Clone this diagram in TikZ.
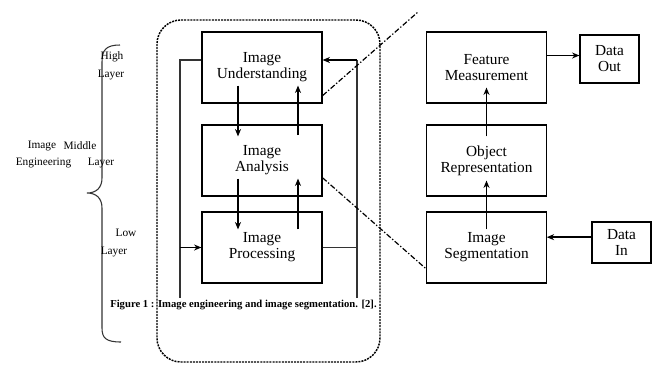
\documentclass[tikz,border=0pt]{standalone}
\usepackage{fontspec}
\setmainfont{Liberation Serif}
\usetikzlibrary{arrows.meta}
\begin{document}
\begin{tikzpicture}[x=0.75pt,y=-0.75pt,
    stage/.style={draw,line width=0.9pt,minimum width=90pt,minimum height=53.25pt,align=center,inner sep=1pt,font=\fontsize{11.5}{12}\selectfont},
    io/.style={draw,line width=0.9pt,minimum width=44.25pt,align=center,inner sep=1pt,font=\fontsize{11.5}{12}\selectfont},
    flow/.style={->,>={Stealth[length=5.5pt,width=4.5pt]},line width=1.2pt},
    loopline/.style={line width=0.9pt,draw=black!80},
    zoomline/.style={line width=0.9pt,dash pattern=on 4pt off 1.5pt on 1pt off 1.5pt},
    lbl/.style={font=\fontsize{8.5}{9}\selectfont,inner sep=0pt}]
  \useasboundingbox (0,0) rectangle (658,365);
  % image engineering levels
  \node[stage] (und) at (262,67.5) {Image\\Understanding};
  \node[stage] (ana) at (262,160.5) {Image\\Analysis};
  \node[stage] (pro) at (262,247.5) {Image\\Processing};
  % segmentation chain
  \node[stage,minimum width=89.5pt] (fea) at (486.5,67.5) {Feature\\Measurement};
  \node[stage,minimum width=89.5pt] (obj) at (486.5,160.5) {Object\\Representation};
  \node[stage,minimum width=89.5pt] (seg) at (486.5,247.5) {Image\\Segmentation};
  \node[io,minimum height=36pt] (dout) at (609.5,59) {Data\\Out};
  \node[io,minimum height=30.75pt] (din) at (621.5,242.5) {Data\\In};
  % frame
  \draw[line width=1.1pt,dash pattern=on 1.5pt off 0.8pt,rounded corners=18pt] (157,20) rectangle (380,362);
  % feedback loops
  \coordinate (lt) at (180,60);
  \coordinate (lb) at (180,298);
  \coordinate (rt) at (357,60);
  \coordinate (rb) at (357,298);
  \draw[loopline] (und.west |- lt) -- (lt) -- (lb);
  \draw[flow] (pro.west -| lt) -- (pro.west);
  \draw[loopline] (pro.east) -- (pro.east -| rt);
  \draw[loopline] (rb) -- (rt);
  \draw[flow] (rt) -- (und.east |- rt);
  % between levels
  \draw[flow] ([xshift=-18pt,yshift=13.5pt]und.south) -- ([xshift=-18pt,yshift=-9pt]ana.north);
  \draw[flow] ([xshift=27pt,yshift=-8pt]ana.north) -- ([xshift=27pt,yshift=13.5pt]und.south);
  \draw[flow] ([xshift=-18pt,yshift=13.5pt]ana.south) -- ([xshift=-18pt,yshift=-13.5pt]pro.north);
  \draw[flow] ([xshift=27pt,yshift=-13.5pt]pro.north) -- ([xshift=27pt,yshift=13.5pt]ana.south);
  \draw[flow] ([yshift=-13.5pt]seg.north) -- ([yshift=12pt]obj.south);
  \draw[flow] ([yshift=-9pt]obj.north) -- ([yshift=12pt]fea.south);
  \draw[flow] ([yshift=9pt]fea.east) -- ([yshift=9pt]fea.east -| dout.west);
  \draw[flow] ([yshift=4pt]din.west) -- ([yshift=4pt]din.west -| seg.east);
  % zoom lines
  \coordinate (zt) at (418,12);
  \draw[zoomline] ([yshift=6pt]und.south east) -- (zt);
  \draw[zoomline] ([yshift=-13pt]ana.east) -- ([yshift=11pt]seg.south west);
  % brace
  \draw[line width=0.8pt,draw=black!80] (120,45) .. controls (106,45) and (102,50) .. (102,62) -- (102,178)
    .. controls (102,188) and (96,193) .. (87,193) .. controls (96,193) and (102,198) .. (102,208)
    -- (102,328) .. controls (102,338) and (106,342) .. (121,342);
  \node[lbl] (high) at (112,57) {High};
  \node[lbl] (highl) at (111,75) {Layer};
  \node[lbl] (img) at (42,146) {Image};
  \node[lbl] (mid) at (80,146) {Middle};
  \node[lbl] (eng) at (43.5,163) {Engineering};
  \node[lbl] (midl) at (101,163) {Layer};
  \node[lbl] (low) at (126,233) {Low};
  \node[lbl] (lowl) at (114,252) {Layer};
  % caption
  \node[anchor=west,inner sep=0pt,font=\fontsize{8}{9}\selectfont\bfseries] (cap) at (110,305)
    {Figure 1 : Image engineering and image segmentation. [2].};
\end{tikzpicture}
\end{document}
